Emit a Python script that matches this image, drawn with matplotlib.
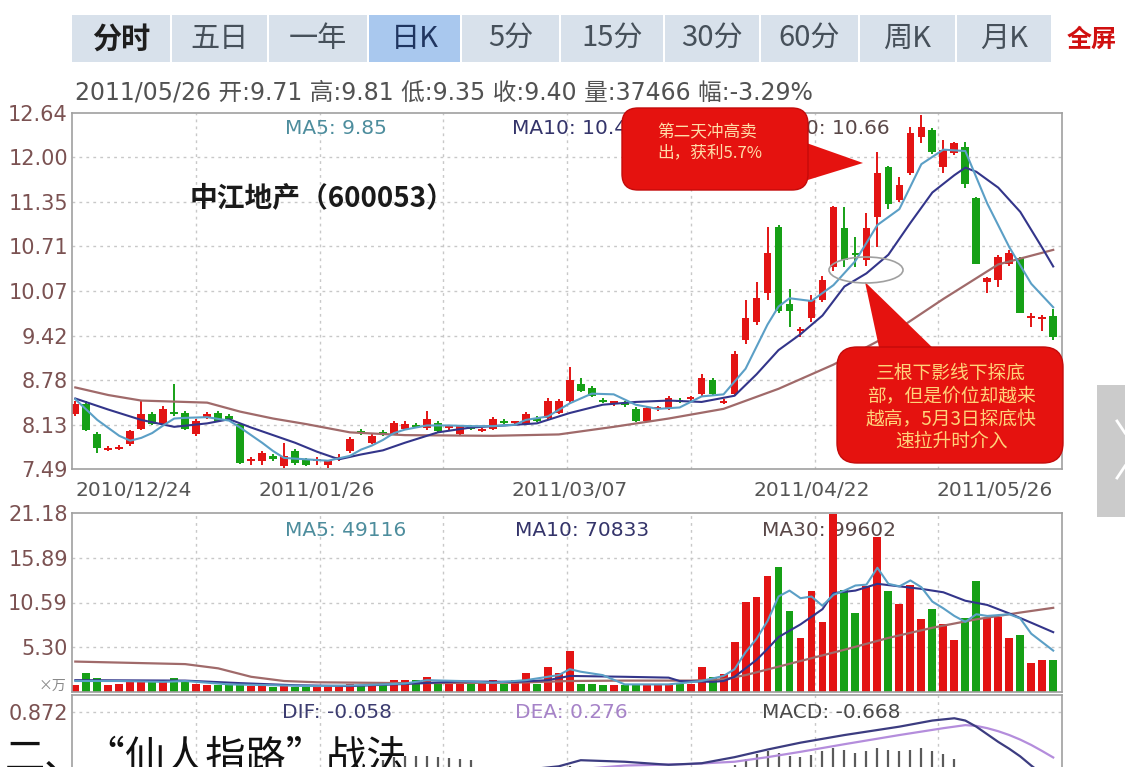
import numpy as np
import matplotlib
matplotlib.use('Agg')
import matplotlib.pyplot as plt
from matplotlib.patches import FancyBboxPatch, Polygon, Ellipse, Rectangle

plt.rcParams['font.family'] = ['DejaVu Sans', 'Noto Sans CJK SC']
CJK = ['Noto Sans CJK SC', 'DejaVu Sans']

# ---------------- data ----------------
tabs = ['分时', '五日', '一年', '日K', '5分', '15分', '30分', '60分', '周K', '月K']
info = '2011/05/26 开:9.71 高:9.81 低:9.35 收:9.40 量:37466 幅:-3.29%'
dates = ['2010/12/24', '2011/01/26', '2011/03/07', '2011/04/22', '2011/05/26']
date_idx = [0, 22, 45, 67, 89]
price_ticks = [7.49, 8.13, 8.78, 9.42, 10.07, 10.71, 11.35, 12.00, 12.64]
vol_ticks = [5.30, 10.59, 15.89, 21.18]
macd_ticks = [0.872]

opens = [8.29, 8.43, 7.99, 7.77, 7.78, 7.85, 8.07, 8.29, 8.14, 8.31,
         8.30, 8.00, 8.24, 8.30, 8.25, 8.14, 7.60, 7.61, 7.68, 7.53,
         7.75, 7.62, 7.60, 7.55, 7.63, 7.75, 8.04, 7.87, 8.02, 8.00,
         8.07, 8.13, 8.08, 8.16, 8.08, 8.00, 8.10, 8.04, 8.07, 8.19,
         8.15, 8.14, 8.23, 8.23, 8.30, 8.48, 8.72, 8.66, 8.49, 8.44,
         8.45, 8.36, 8.19, 8.36, 8.37, 8.49, 8.50, 8.58, 8.78, 8.45,
         8.58, 9.35, 9.61, 10.04, 10.99, 9.88, 9.48, 9.68, 9.93, 10.41,
         10.97, 10.62, 10.51, 11.13, 11.86, 11.38, 11.77, 12.29, 12.39, 11.86,
         12.06, 12.15, 11.41, 10.20, 10.22, 10.46, 10.54, 9.67, 9.66, 9.71]
highs = [8.47, 8.47, 8.02, 7.82, 7.84, 8.06, 8.48, 8.32, 8.40, 8.72,
         8.33, 8.21, 8.31, 8.33, 8.28, 8.16, 7.66, 7.75, 7.71, 7.87,
         7.78, 7.65, 7.67, 7.62, 7.70, 7.95, 8.07, 8.00, 8.05, 8.18,
         8.18, 8.16, 8.33, 8.18, 8.13, 8.13, 8.12, 8.08, 8.24, 8.21,
         8.18, 8.31, 8.25, 8.52, 8.50, 8.96, 8.80, 8.69, 8.52, 8.48,
         8.48, 8.38, 8.39, 8.40, 8.55, 8.51, 8.55, 8.87, 8.80, 8.50,
         9.20, 9.93, 10.19, 10.99, 11.02, 10.10, 9.55, 10.00, 10.28, 11.30,
         11.28, 10.85, 11.19, 12.08, 11.88, 11.71, 12.44, 12.61, 12.42, 12.25,
         12.22, 12.22, 11.43, 10.27, 10.58, 10.66, 10.56, 9.75, 9.72, 9.81]
lows = [8.26, 8.04, 7.72, 7.75, 7.76, 7.82, 8.05, 8.12, 8.12, 8.25,
        8.05, 7.97, 8.22, 8.17, 8.20, 7.56, 7.55, 7.55, 7.60, 7.50,
        7.55, 7.53, 7.55, 7.50, 7.60, 7.72, 7.98, 7.85, 7.97, 7.98,
        8.05, 8.08, 8.06, 8.02, 8.06, 7.98, 8.05, 8.02, 8.05, 8.14,
        8.12, 8.12, 8.17, 8.21, 8.28, 8.43, 8.60, 8.53, 8.44, 8.40,
        8.38, 8.17, 8.17, 8.33, 8.35, 8.44, 8.48, 8.55, 8.56, 8.43,
        8.55, 9.30, 9.58, 9.93, 9.74, 9.55, 9.40, 9.62, 9.90, 10.35,
        10.41, 10.41, 10.42, 10.70, 11.25, 11.35, 11.75, 12.20, 12.05, 11.77,
        12.03, 11.55, 10.46, 10.04, 10.12, 10.42, 9.74, 9.55, 9.48, 9.35]
closes = [8.43, 8.06, 7.79, 7.80, 7.79, 8.04, 8.29, 8.14, 8.36, 8.28,
          8.07, 8.19, 8.29, 8.19, 8.22, 7.58, 7.62, 7.72, 7.63, 7.68,
          7.58, 7.55, 7.64, 7.60, 7.67, 7.92, 8.01, 7.97, 8.00, 8.16,
          8.14, 8.10, 8.22, 8.04, 8.11, 8.11, 8.07, 8.06, 8.22, 8.16,
          8.16, 8.29, 8.19, 8.48, 8.48, 8.78, 8.62, 8.55, 8.46, 8.46,
          8.42, 8.19, 8.37, 8.38, 8.52, 8.46, 8.53, 8.81, 8.58, 8.48,
          9.16, 9.68, 9.97, 10.61, 9.78, 9.78, 9.52, 9.93, 10.22, 11.28,
          10.51, 10.58, 10.97, 11.77, 11.33, 11.60, 12.35, 12.44, 12.07, 12.10,
          12.20, 11.62, 10.46, 10.25, 10.55, 10.62, 9.74, 9.71, 9.69, 9.40]

# volume, x10000 shares
volume = [0.8, 2.3, 1.7, 0.8, 1.0, 1.2, 1.4, 1.2, 1.4, 1.65,
          1.2, 1.0, 0.8, 0.8, 0.8, 1.0, 0.7, 0.7, 0.6, 0.8,
          0.6, 0.6, 0.7, 0.8, 0.6, 1.0, 0.8, 0.8, 0.8, 1.4,
          1.4, 1.4, 1.8, 1.2, 0.95, 0.95, 0.95, 1.2, 1.4, 0.95,
          1.4, 2.3, 0.95, 3.0, 2.3, 4.9, 1.0, 0.9, 0.8, 0.8,
          0.8, 0.9, 0.9, 0.8, 1.0, 0.9, 0.9, 3.0, 1.8, 2.1,
          5.95, 10.6, 11.2, 13.7, 14.8, 9.6, 6.4, 11.9, 8.3, 21.1,
          12.1, 9.4, 12.5, 18.3, 11.9, 10.4, 12.7, 8.6, 9.8, 8.0,
          6.1, 8.8, 13.1, 8.8, 8.9, 6.4, 6.7, 3.45, 3.8, 3.75]

# moving average lines (index, value)
ma5_idx = [0, 2, 4, 5, 6, 7, 8, 9, 10, 12, 14, 15, 16, 17, 18, 19, 21, 23, 25, 26,
           27, 28, 29, 30, 32, 34, 36, 38, 40, 41, 43, 45, 47, 49, 51, 53, 55, 57, 59, 61,
           63, 64, 65, 67, 69, 71, 73, 75, 77, 79, 81, 83, 85, 87, 89]
ma5_val = [8.50, 8.20, 7.97, 7.90, 7.94, 8.01, 8.12, 8.22, 8.23, 8.24, 8.19, 8.09, 7.98, 7.87, 7.75, 7.65, 7.63, 7.61, 7.68, 7.77,
           7.83, 7.91, 8.01, 8.06, 8.12, 8.12, 8.11, 8.11, 8.13, 8.20, 8.25, 8.44, 8.58, 8.57, 8.42, 8.36, 8.38, 8.54, 8.57, 8.94,
           9.58, 9.84, 9.96, 9.92, 10.15, 10.50, 11.02, 11.25, 11.90, 12.11, 12.09, 11.33, 10.70, 10.17, 9.83]
ma10_idx = [0, 3, 6, 9, 12, 14, 16, 18, 20, 22, 24, 26, 28, 30, 33, 36, 40, 42, 45, 48,
            51, 54, 57, 60, 62, 64, 66, 68, 70, 72, 74, 76, 78, 80, 81, 82, 84, 86, 88, 89]
ma10_val = [8.51, 8.35, 8.20, 8.10, 8.15, 8.21, 8.09, 7.98, 7.87, 7.74, 7.63, 7.70, 7.76, 7.87, 8.02, 8.09, 8.13, 8.15, 8.30, 8.42,
            8.46, 8.48, 8.46, 8.55, 8.86, 9.21, 9.44, 9.71, 10.13, 10.32, 10.59, 11.05, 11.49, 11.74, 11.85, 11.79, 11.56, 11.21, 10.69, 10.42]
ma30_idx = [0, 3, 6, 12, 15, 18, 21, 25, 30, 38, 44, 49, 54, 59, 64, 69, 74, 79, 84, 89]
ma30_val = [8.67, 8.56, 8.48, 8.45, 8.32, 8.22, 8.14, 8.02, 7.98, 7.97, 7.99, 8.10, 8.22, 8.36, 8.65, 9.00, 9.42, 9.95, 10.45, 10.66]

vma5_idx = [0, 4, 8, 10, 14, 18, 22, 26, 30, 32, 35, 38, 41, 44, 45, 46, 48, 50, 54, 57,
            59, 60, 61, 62, 63, 64, 65, 66, 67, 68, 69, 70, 71, 72, 73, 74, 75, 76, 77, 78,
            79, 80, 81, 82, 83, 84, 85, 86, 87, 88, 89]
vma5_val = [1.3, 1.3, 1.2, 1.3, 0.9, 0.8, 0.7, 0.8, 1.0, 1.4, 1.3, 1.1, 1.4, 2.0, 2.7, 2.4, 2.0, 0.9, 0.9, 1.3,
            1.9, 2.7, 4.7, 6.3, 8.4, 11.3, 12.0, 11.1, 11.3, 10.2, 11.5, 12.0, 12.6, 12.7, 14.7, 12.8, 12.5, 13.2, 12.4, 10.7,
            9.9, 9.0, 8.3, 9.2, 9.0, 9.1, 9.2, 8.7, 6.9, 5.9, 4.9]
vma10_idx = [0, 10, 15, 20, 25, 30, 35, 40, 43, 45, 50, 54, 55, 58, 59, 60, 61, 62, 63, 64,
             66, 68, 69, 71, 73, 75, 77, 79, 81, 83, 85, 87, 89]
vma10_val = [1.4, 1.35, 1.05, 0.8, 0.7, 0.95, 1.25, 1.2, 1.4, 1.9, 1.8, 1.7, 1.3, 1.2, 1.3, 1.8, 2.8, 3.8, 5.1, 6.5,
             8.0, 9.8, 11.7, 12.0, 12.8, 12.5, 12.2, 11.8, 10.8, 10.3, 9.3, 8.2, 7.08]
vma30_idx = [0, 10, 13, 16, 19, 22, 30, 40, 45, 50, 56, 59, 61, 64, 67, 70, 74, 78, 82, 86, 89]
vma30_val = [3.6, 3.3, 2.8, 1.8, 1.3, 1.15, 1.05, 1.1, 1.3, 1.35, 1.35, 1.5, 2.0, 3.0, 4.0, 5.0, 6.4, 7.6, 8.6, 9.4, 9.96]

dif_idx = [0, 8, 15, 20, 24, 28, 32, 36, 40, 44, 46, 50, 54, 57, 60, 63, 66, 70, 75, 78,
           80, 81, 82, 83, 84, 85, 86, 87, 88, 89]
dif_val = [-0.10, -0.05, -0.12, -0.20, -0.18, -0.05, 0.05, 0.08, 0.10, 0.16, 0.24, 0.22, 0.18, 0.20, 0.28, 0.38, 0.47, 0.57, 0.68, 0.76,
           0.79, 0.76, 0.68, 0.58, 0.48, 0.39, 0.29, 0.17, 0.06, -0.058]
dea_idx = [0, 10, 20, 26, 30, 36, 44, 50, 56, 60, 63, 66, 70, 75, 79, 81, 82, 83, 84, 85,
           86, 87, 88, 89]
dea_val = [0.0, -0.06, -0.13, -0.15, -0.08, 0.02, 0.10, 0.17, 0.19, 0.22, 0.28, 0.35, 0.45, 0.57, 0.66, 0.70, 0.69, 0.66, 0.62, 0.57,
           0.51, 0.44, 0.36, 0.276]
macd = [-0.12, -0.15, -0.20, -0.22, -0.20, -0.15, -0.08, -0.05, 0.00, 0.02,
        -0.02, -0.03, 0.00, -0.02, -0.04, -0.15, -0.20, -0.22, -0.22, -0.20,
        -0.18, -0.16, -0.12, -0.08, -0.04, 0.05, 0.12, 0.18, 0.24, 0.28,
        0.30, 0.29, 0.30, 0.28, 0.27, 0.26, 0.24, 0.14, 0.12, 0.10,
        0.08, 0.08, 0.10, 0.12, 0.14, 0.16, 0.14, 0.12, 0.08, 0.04,
        0.02, -0.02, -0.02, 0.00, 0.00, 0.02, 0.04, 0.06, 0.08, 0.12,
        0.18, 0.26, 0.32, 0.36, 0.34, 0.30, 0.28, 0.31, 0.36, 0.40,
        0.38, 0.34, 0.36, 0.40, 0.38, 0.36, 0.38, 0.40, 0.36, 0.32,
        0.26, 0.10, -0.06, -0.16, -0.28, -0.36, -0.44, -0.54, -0.60, -0.668]

# ---------------- style ----------------
RED = '#e31414'
GREEN = '#16a016'
C_MA5 = '#5b9fc6'
C_MA10 = '#33358a'
C_MA30 = '#a06a6a'
GRID = '#c8c8c8'
TICK = '#7b5252'

W, H = 1125, 767
fig = plt.figure(figsize=(W / 100, H / 100), dpi=100)
fig.patch.set_facecolor('white')


def box(l, t, r, b):
    return [l / W, 1 - b / H, (r - l) / W, (b - t) / H]


ov = fig.add_axes([0, 0, 1, 1])
ov.set_xlim(0, W)
ov.set_ylim(H, 0)
ov.axis('off')
ov.set_zorder(10)

ax = fig.add_axes(box(72, 113, 1062, 469))
axv = fig.add_axes(box(72, 513, 1062, 692))
axm = fig.add_axes(box(72, 695, 1062, 767))

idx = np.arange(len(closes))
o = np.array(opens)
c = np.array(closes)
up = c >= o
cols = np.where(up, RED, GREEN)

for a in (ax, axv, axm):
    a.set_xlim(-0.3, 89.8)
    for s in a.spines.values():
        s.set_color('#a0a0a0')
        s.set_linewidth(1.2)
    a.tick_params(axis='y', length=0, pad=3, labelsize=15, labelcolor=TICK)


def grid(a, yvals):
    x0, x1 = a.get_xlim()
    for k in range(1, 8):
        a.axvline(x0 + (x1 - x0) * k / 8, color=GRID, lw=1, ls=(0, (2, 3)), zorder=0)
    for v in yvals:
        a.axhline(v, color=GRID, lw=1, ls=(0, (2, 3)), zorder=0)


# price panel
ax.set_ylim(price_ticks[0], price_ticks[-1])
ax.set_yticks(price_ticks, ['%.2f' % v for v in price_ticks])
grid(ax, price_ticks[1:-1])
ax.vlines(idx, lows, highs, colors=cols, lw=1.4, zorder=2)
ax.bar(idx, np.maximum(np.abs(c - o), 0.03), bottom=np.minimum(o, c), width=0.7,
       color=cols, zorder=2)
ax.plot(ma30_idx, ma30_val, color=C_MA30, lw=1.6, zorder=3)
ax.plot(ma10_idx, ma10_val, color=C_MA10, lw=1.5, zorder=3)
ax.plot(ma5_idx, ma5_val, color=C_MA5, lw=1.5, zorder=3)
ax.set_xticks(date_idx, dates)
ax.tick_params(axis='x', length=0, pad=9, labelsize=14.5, labelcolor='#555555')
tl = ax.get_xticklabels()
tl[0].set_ha('left')
tl[-1].set_ha('right')

ax.text(285, 128, 'MA5: 9.85', transform=ov.transData, color='#4d8d9d', fontsize=14.5, va='center')
ax.text(512, 128, 'MA10: 10.42', transform=ov.transData, color='#34346a', fontsize=14.5, va='center')
ax.text(762, 128, 'MA30: 10.66', transform=ov.transData, color='#5a4848', fontsize=14.5, va='center')
ax.text(190, 198, '中江地产（600053）', transform=ov.transData, family=CJK, fontsize=20,
        fontweight='bold', color='#1a1a1a', va='center')

# volume panel
axv.set_ylim(0, vol_ticks[-1])
axv.set_yticks(vol_ticks, ['%.2f' % v for v in vol_ticks])
axv.set_xticks([])
grid(axv, vol_ticks[:-1])
axv.bar(idx, volume, width=0.72, color=cols, zorder=2)
axv.plot(vma30_idx, vma30_val, color=C_MA30, lw=1.6, zorder=3)
axv.plot(vma10_idx, vma10_val, color=C_MA10, lw=1.5, zorder=3)
axv.plot(vma5_idx, vma5_val, color=C_MA5, lw=1.5, zorder=3)
axv.text(285, 530, 'MA5: 49116', transform=ov.transData, color='#4d8d9d', fontsize=14.5, va='center', zorder=1)
axv.text(515, 530, 'MA10: 70833', transform=ov.transData, color='#34346a', fontsize=14.5, va='center', zorder=1)
axv.text(762, 530, 'MA30: 99602', transform=ov.transData, color='#5a4848', fontsize=14.5, va='center', zorder=1)

# macd panel
axm.set_ylim(0.151, 1.095)
axm.set_yticks(macd_ticks, ['%.3f' % v for v in macd_ticks])
axm.set_xticks([])
axm.spines['bottom'].set_visible(False)
grid(axm, macd_ticks)
axm.vlines(idx, 0, macd, colors='#5a5a5a', lw=1.6, zorder=2)
axm.plot(dea_idx, dea_val, color='#b48ddc', lw=1.6, zorder=3)
axm.plot(dif_idx, dif_val, color='#3c3c80', lw=1.6, zorder=3)
axm.text(282, 712, 'DIF: -0.058', transform=ov.transData, color='#3c3c70', fontsize=14.5, va='center')
axm.text(515, 712, 'DEA: 0.276', transform=ov.transData, color='#a683c8', fontsize=14.5, va='center')
axm.text(762, 712, 'MACD: -0.668', transform=ov.transData, color='#4a4a4a', fontsize=14.5, va='center')

# ---------------- overlay: tab bar, info, callouts ----------------
edges = [71, 171, 268, 368, 461, 560, 664, 760, 859, 956, 1052]
for k, lab in enumerate(tabs):
    sel = lab == '日K'
    ov.add_patch(Rectangle((edges[k] + 1, 15), edges[k + 1] - edges[k] - 2, 47,
                           fc='#a9c8ee' if sel else '#d8e1eb', ec='none'))
    ov.text((edges[k] + edges[k + 1]) / 2, 39, lab, family=CJK, fontsize=21,
            ha='center', va='center',
            color='#1f3560' if sel else ('#1e1e1e' if k == 0 else '#46505a'),
            fontweight='bold' if k == 0 else 'normal')
ov.text(1092, 40, '全屏', family=CJK, fontsize=18, fontweight='bold', color='#d01010',
        ha='center', va='center')
ov.text(75, 92, info, fontsize=17, color='#525252', va='center')
ov.text(66, 686, '×万', family=CJK, fontsize=10, color='#8a8a8a', ha='right', va='center')

# right side grey handle
ov.add_patch(Rectangle((1097, 385), 28, 132, fc='#cbcbcb', ec='none'))
ov.plot([1117, 1125], [421, 433], color='white', lw=2)
ov.plot([1117, 1125], [478, 466], color='white', lw=2)

# callout 1
ov.add_patch(Polygon([(798, 140), (798, 183), (863, 163)], closed=True, fc='#e5120f', ec='none'))
ov.add_patch(FancyBboxPatch((622, 108), 186, 82, boxstyle='round,pad=0,rounding_size=16',
                            fc='#e5120f', ec='#c40a0a', lw=1))
ov.text(657, 143, '第二天冲高卖\n出，获利5.7%', family=CJK, fontsize=12, color='#ffdca8',
        ha='left', va='center', linespacing=1.25)

# callout 2
ov.add_patch(Polygon([(880, 352), (937, 352), (865, 282)], closed=True, fc='#e5120f', ec='none'))
ov.add_patch(FancyBboxPatch((837, 347), 226, 116, boxstyle='round,pad=0,rounding_size=20',
                            fc='#e5120f', ec='#c40a0a', lw=1))
ov.text(951, 407, '三根下影线下探底\n部，但是价位却越来\n越高，5月3日探底快\n速拉升时介入', family=CJK,
        fontsize=13.5, color='#ffd27a', ha='center', va='center', linespacing=1.1)

ov.add_patch(Ellipse((866, 270), 74, 26, fill=False, ec='#a0a0a0', lw=1.2))

# heading over the picture
ov.text(5, 770, '二、“仙人指路”战法', family=CJK, fontsize=29, color='#111111',
        ha='left', va='baseline')

fig.savefig('out.png', dpi=100, facecolor='white')
